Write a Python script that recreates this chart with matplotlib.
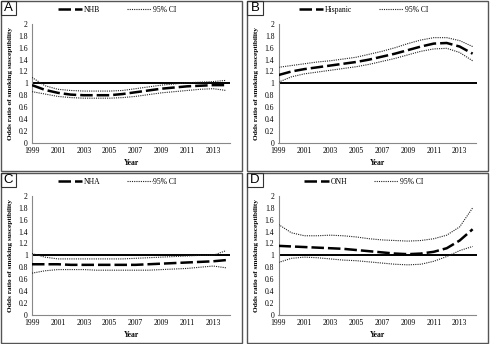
import numpy as np
import matplotlib
matplotlib.use('Agg')
import matplotlib.pyplot as plt
from matplotlib.patches import Rectangle

years = list(range(1999, 2015))
tick_years = list(range(1999, 2014, 2))

# Panel A: non-Hispanic Black
nhb_or = [0.97, 0.89, 0.84, 0.81, 0.80, 0.80, 0.80, 0.82, 0.85, 0.88, 0.91, 0.93, 0.95, 0.96, 0.97, 0.97]
nhb_hi = [1.10, 0.96, 0.90, 0.88, 0.87, 0.87, 0.87, 0.88, 0.91, 0.94, 0.97, 0.99, 1.01, 1.02, 1.03, 1.05]
nhb_lo = [0.86, 0.82, 0.78, 0.76, 0.75, 0.75, 0.75, 0.76, 0.78, 0.81, 0.84, 0.86, 0.88, 0.90, 0.91, 0.88]

# Panel B: Hispanic
his_or = [1.14, 1.20, 1.24, 1.27, 1.30, 1.33, 1.36, 1.40, 1.45, 1.50, 1.56, 1.62, 1.67, 1.68, 1.62, 1.50]
his_hi = [1.27, 1.30, 1.33, 1.36, 1.38, 1.41, 1.44, 1.49, 1.54, 1.60, 1.67, 1.73, 1.77, 1.77, 1.72, 1.62]
his_lo = [1.02, 1.11, 1.16, 1.19, 1.22, 1.25, 1.28, 1.32, 1.37, 1.42, 1.48, 1.54, 1.58, 1.59, 1.52, 1.38]

# Panel C: non-Hispanic Asian
nha_or = [0.85, 0.85, 0.85, 0.84, 0.84, 0.84, 0.84, 0.84, 0.84, 0.85, 0.86, 0.87, 0.88, 0.89, 0.90, 0.92]
nha_hi = [1.03, 0.97, 0.94, 0.94, 0.94, 0.94, 0.94, 0.94, 0.95, 0.96, 0.97, 0.98, 0.99, 1.00, 1.00, 1.08]
nha_lo = [0.70, 0.74, 0.76, 0.76, 0.76, 0.75, 0.75, 0.75, 0.75, 0.75, 0.76, 0.77, 0.78, 0.80, 0.82, 0.79]

# Panel D: other non-Hispanic
onh_or = [1.16, 1.15, 1.14, 1.13, 1.12, 1.11, 1.09, 1.07, 1.05, 1.03, 1.02, 1.03, 1.06, 1.12, 1.25, 1.44]
onh_hi = [1.52, 1.38, 1.33, 1.33, 1.34, 1.33, 1.31, 1.28, 1.26, 1.25, 1.24, 1.25, 1.28, 1.34, 1.48, 1.80]
onh_lo = [0.88, 0.95, 0.97, 0.96, 0.94, 0.92, 0.91, 0.89, 0.87, 0.85, 0.84, 0.85, 0.90, 0.98, 1.08, 1.15]

panels = [
    ('A', 'NHB', nhb_or, nhb_hi, nhb_lo),
    ('B', 'Hispanic', his_or, his_hi, his_lo),
    ('C', 'NHA', nha_or, nha_hi, nha_lo),
    ('D', 'ONH', onh_or, onh_hi, onh_lo),
]

W, H = 493, 344
fig = plt.figure(figsize=(W / 100, H / 100), dpi=100)
SERIF = 'Liberation Serif'

# pixel offsets of each panel (x, y)
offsets = [(0, 0), (246.5, 0), (0, 172), (246.5, 172)]


def px_rect(x0, y0, x1, y1):
    return [x0 / W, 1 - y1 / H, (x1 - x0) / W, (y1 - y0) / H]


for (letter, name, odds, hi, lo), (dx, dy) in zip(panels, offsets):
    # panel frame
    bx = px_rect(1 + dx, 1 + dy, 242 + dx, 170.5 + dy)
    fig.add_artist(Rectangle((bx[0], bx[1]), bx[2], bx[3], transform=fig.transFigure,
                             fill=False, edgecolor='#555555', linewidth=1.0))
    lb = px_rect(1 + dx, 1 + dy, 16 + dx, 15 + dy)
    fig.add_artist(Rectangle((lb[0], lb[1]), lb[2], lb[3], transform=fig.transFigure,
                             fill=False, edgecolor='#333333', linewidth=0.8))
    fig.text((8.5 + dx) / W, 1 - (8.3 + dy) / H, letter, ha='center', va='center',
             fontsize=9.5, family='Liberation Sans')

    ax = fig.add_axes(px_rect(32 + dx, 24 + dy, 230 + dx, 142.7 + dy))
    ax.axhline(1, color='black', linewidth=1.4, zorder=2)
    ax.plot(years, odds, color='black', linewidth=1.8, dashes=(5, 1.6),
            label=name, zorder=3)
    ax.plot(years, hi, color='#222222', linewidth=0.8, linestyle=(0, (1, 1)),
            label='95% CI', zorder=3)
    ax.plot(years, lo, color='#222222', linewidth=0.8, linestyle=(0, (1, 1)), zorder=3)

    ax.set_xlim(1999, 2014.3)
    ax.set_ylim(0, 2)
    ax.set_xticks(tick_years)
    ax.set_xticklabels([str(y) for y in tick_years], family=SERIF, fontsize=5.5)
    yt = np.arange(0, 2.01, 0.2)
    ax.set_yticks(yt)
    ax.set_yticklabels([f'{v:g}' for v in np.round(yt, 1)], family=SERIF, fontsize=5.5)
    ax.tick_params(length=0, pad=3)
    for s in ('top', 'right'):
        ax.spines[s].set_visible(False)
    for s in ('left', 'bottom'):
        ax.spines[s].set_color('#888888')
        ax.spines[s].set_linewidth(0.8)

    ax.set_xlabel('Year', family=SERIF, fontsize=5.5, fontweight='bold', labelpad=3)
    ax.set_ylabel('Odds ratio of smoking susceptibility', family=SERIF,
                  fontsize=5.3, fontweight='bold', labelpad=4)
    ax.legend(loc='center', bbox_to_anchor=(0.43, 1.12), ncol=2, frameon=False,
              prop={'family': SERIF, 'size': 5.5}, handlelength=3.2,
              columnspacing=3.5, handletextpad=0.2)

fig.savefig('out.png', dpi=100)
